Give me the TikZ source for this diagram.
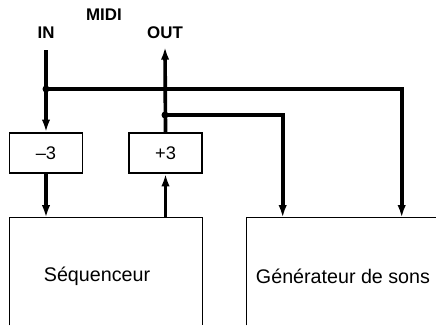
\documentclass[tikz,border=0pt]{standalone}
\usepackage{fontspec}
\setmainfont{Liberation Sans}
\usetikzlibrary{calc, arrows.meta}

\begin{document}
\begin{tikzpicture}[x=0.025cm, y=0.025cm]

    \tikzset{box/.style={draw, line width=1.1pt, minimum width=1.825cm, minimum height=1cm, inner sep=0pt, font=\fontsize{13}{15}\selectfont}}
    \tikzset{unit/.style={minimum width=4.8cm, minimum height=2.675cm, inner sep=0pt}}
    \tikzset{frame/.style={line width=1.1pt}}
    \tikzset{wire/.style={line width=2.6pt}}
    \tikzset{wirearrow/.style={wire, -{Latex[length=9pt,width=6pt]}}}
    \tikzset{tag/.style={inner sep=0pt, font=\bfseries\fontsize{12}{14}\selectfont}}
    \tikzset{unitname/.style={inner sep=0pt, font=\fontsize{14}{16}\selectfont}}

    \useasboundingbox (0,0) rectangle (436,325);

    % labels at the top
    \node[tag] (in) at (46,292) {IN};
    \node[tag] (midi) at (104,310) {MIDI};
    \node[tag] (out) at (165,292) {OUT};

    % small boxes
    \node[box] (minus) at (46,172) {\textendash3};
    \node[box] (plus) at (165.5,172) {+3};

    % sequencer, open at the bottom
    \node[unit] (seq) at (106,53.5) {};
    \draw[frame] (seq.south west) -- (seq.north west) -- (seq.north east) -- (seq.south east);
    \node[unitname] (seqname) at (97,49) {Séquenceur};

    % sound generator, open at the bottom and right
    \node[unit, minimum width=4.725cm] (gen) at (341.5,53.5) {};
    \draw[frame] (gen.south west) -- (gen.north west) -- (gen.north east);
    \node[unitname] (genname) at (343,49) {Générateur de sons};

    \coordinate (intop) at (46,275);
    \coordinate (insplit) at (46,236);
    \coordinate (outtop) at (165,278);
    \coordinate (outsplit) at (165,210);

    \draw[wire] (intop) -- (insplit);
    \draw[wirearrow] (insplit) -- (minus.north);
    \draw[wirearrow] (insplit) -| ($(gen.north west)+(155,0)$);
    \draw[wirearrow] (outsplit) -| ($(gen.north west)+(36,0)$);
    \draw[wirearrow] (minus.south) -- (minus.south |- seq.north);
    \draw[wirearrow] (plus.south |- seq.north) -- (plus.south);
    \draw[wirearrow] (plus.north) -- (outtop);

    \fill (insplit) circle (3.5);
    \fill (outsplit) circle (3.5);

\end{tikzpicture}
\end{document}
